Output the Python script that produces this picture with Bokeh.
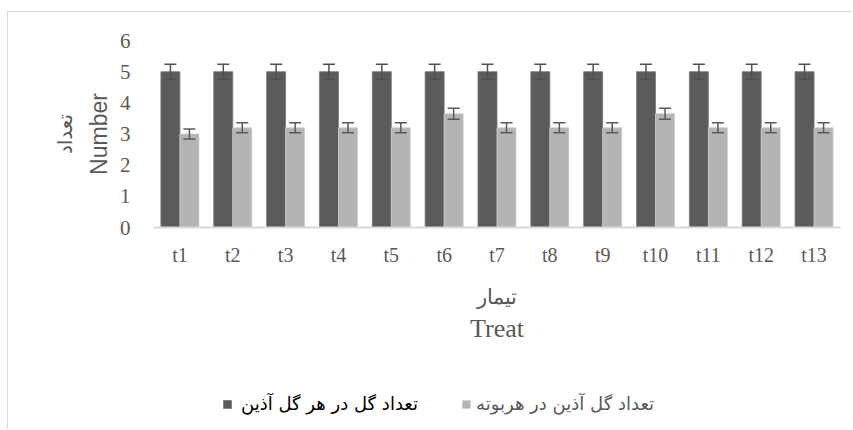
from bokeh.plotting import figure
from bokeh.layouts import column
from bokeh.models import (ColumnDataSource, FactorRange, Range1d, FixedTicker,
                          Whisker, TeeHead, Legend, LegendItem, Title)
from bokeh.transform import dodge
from bokeh.embed import file_html
from bokeh.resources import INLINE

categories = ["t1", "t2", "t3", "t4", "t5", "t6", "t7", "t8", "t9", "t10", "t11", "t12", "t13"]
flowers_per_inflo = [5, 5, 5, 5, 5, 5, 5, 5, 5, 5, 5, 5, 5]
flowers_per_inflo_err = [0.24] * 13
inflo_per_plant = [3.0, 3.2, 3.2, 3.2, 3.2, 3.65, 3.2, 3.2, 3.2, 3.65, 3.2, 3.2, 3.2]
inflo_per_plant_err = [0.16, 0.16, 0.16, 0.16, 0.16, 0.18, 0.16, 0.16, 0.16, 0.18, 0.16, 0.16, 0.16]
y_ticks = [0, 1, 2, 3, 4, 5, 6]

label_dark = "تعداد گل در هر گل آذین"
label_light = "تعداد گل آذین در هربوته"

DARK = "#5b5b5b"
LIGHT = "#b4b4b4"
TXT = "#595959"

src = ColumnDataSource(dict(
    cat=categories,
    dark=flowers_per_inflo,
    dark_lo=[v - e for v, e in zip(flowers_per_inflo, flowers_per_inflo_err)],
    dark_hi=[v + e for v, e in zip(flowers_per_inflo, flowers_per_inflo_err)],
    light=inflo_per_plant,
    light_lo=[v - e for v, e in zip(inflo_per_plant, inflo_per_plant_err)],
    light_hi=[v + e for v, e in zip(inflo_per_plant, inflo_per_plant_err)],
))

xr = FactorRange(*categories, range_padding=0)
p = figure(width=845, height=373, output_backend="svg", toolbar_location=None,
           x_range=xr, y_range=Range1d(0, 6),
           min_border_left=145, min_border_right=13, min_border_top=28, min_border_bottom=158)
p.styles = {"margin-left": "7px", "margin-top": "11px",
            "border-left": "1px solid #d9d9d9", "border-top": "1px solid #d9d9d9"}
p.outline_line_color = None
p.xgrid.grid_line_color = None
p.ygrid.grid_line_color = None

bw = 0.36
dark_style = dict(fill_color=DARK, line_color="#7a7a7a", line_width=0.8)
light_style = dict(fill_color=LIGHT, line_color="#cfcfcf", line_width=0.8)
p.vbar(x=dodge("cat", -bw / 2, range=xr), top="dark", width=bw, source=src, **dark_style)
p.vbar(x=dodge("cat", bw / 2, range=xr), top="light", width=bw, source=src, **light_style)

for base, lo, hi, col in [(-bw / 2, "dark_lo", "dark_hi", "#505050"),
                          (bw / 2, "light_lo", "light_hi", TXT)]:
    w = Whisker(base=dodge("cat", base, range=xr), lower=lo, upper=hi, source=src,
                line_color=col, line_width=1.5, level="overlay",
                upper_head=TeeHead(size=12, line_color=col, line_width=1.5),
                lower_head=TeeHead(size=12, line_color=col, line_width=1.5))
    p.add_layout(w)

# axes
p.xaxis.axis_line_color = "#d9d9d9"
p.xaxis.axis_line_width = 2
p.xaxis.major_tick_line_color = None
p.xaxis.minor_tick_line_color = None
p.xaxis.major_label_text_font = "Liberation Serif"
p.xaxis.major_label_text_font_size = "20px"
p.xaxis.major_label_text_color = TXT
p.xaxis.major_label_standoff = 10
p.xaxis.axis_label = "تیمار"
p.xaxis.axis_label_text_font = "Liberation Serif"
p.xaxis.axis_label_text_font_size = "21px"
p.xaxis.axis_label_text_font_style = "normal"
p.xaxis.axis_label_text_color = TXT
p.xaxis.axis_label_standoff = 16

p.yaxis.ticker = FixedTicker(ticks=y_ticks)
p.yaxis.axis_line_color = None
p.yaxis.major_tick_line_color = None
p.yaxis.minor_tick_line_color = None
p.yaxis.major_label_text_font = "Liberation Serif"
p.yaxis.major_label_text_font_size = "21px"
p.yaxis.major_label_text_color = TXT
p.yaxis.major_label_standoff = 17
p.yaxis.axis_label = "Number"
p.yaxis.axis_label_text_font = "Liberation Sans"
p.yaxis.axis_label_text_font_size = "23px"
p.yaxis.axis_label_text_font_style = "normal"
p.yaxis.axis_label_text_color = TXT
p.yaxis.axis_label_standoff = 5

t_left = Title(text="تعداد", text_font="DejaVu Sans", text_font_size="20px",
               text_font_style="normal", text_color=TXT, align="center", standoff=12)
p.add_layout(t_left, "left")
t_below = Title(text="Treat", text_font="Liberation Serif", text_font_size="26px",
                text_font_style="normal", text_color=TXT, align="center", standoff=0)
p.add_layout(t_below, "below")

# legend strip below the chart (its frame is aligned with the chart's frame)
lg = figure(width=845, height=45, output_backend="svg", toolbar_location=None,
            x_axis_type=None, y_axis_type=None, min_border=0,
            x_range=xr, y_range=Range1d(0, 1))
lg.styles = {"margin-left": "7px", "border-left": "1px solid #d9d9d9"}
lg.outline_line_color = None
lg.xgrid.grid_line_color = None
lg.ygrid.grid_line_color = None
lr_dark = lg.vbar(x=dodge("cat", -bw / 2, range=xr), top="dark", width=bw, source=src,
                  visible=False, **dark_style)
lr_light = lg.vbar(x=dodge("cat", bw / 2, range=xr), top="light", width=bw, source=src,
                   visible=False, **light_style)

common = dict(orientation="horizontal", glyph_width=10, glyph_height=10, padding=0, margin=0,
              label_text_font="DejaVu Sans", label_text_font_size="18px",
              border_line_color=None, background_fill_alpha=0,
              click_policy="none", inactive_fill_alpha=0)
leg1 = Legend(items=[LegendItem(label=label_dark, renderers=[lr_dark])],
              location=(69, 15), label_standoff=9, label_text_color="#000000", **common)
leg2 = Legend(items=[LegendItem(label=label_light, renderers=[lr_light])],
              location=(308, 15), label_standoff=5, label_text_color=TXT, **common)
lg.add_layout(leg1, "center")
lg.add_layout(leg2, "center")

layout = column(p, lg, spacing=0)
open("out.html", "w").write(file_html(layout, INLINE))
